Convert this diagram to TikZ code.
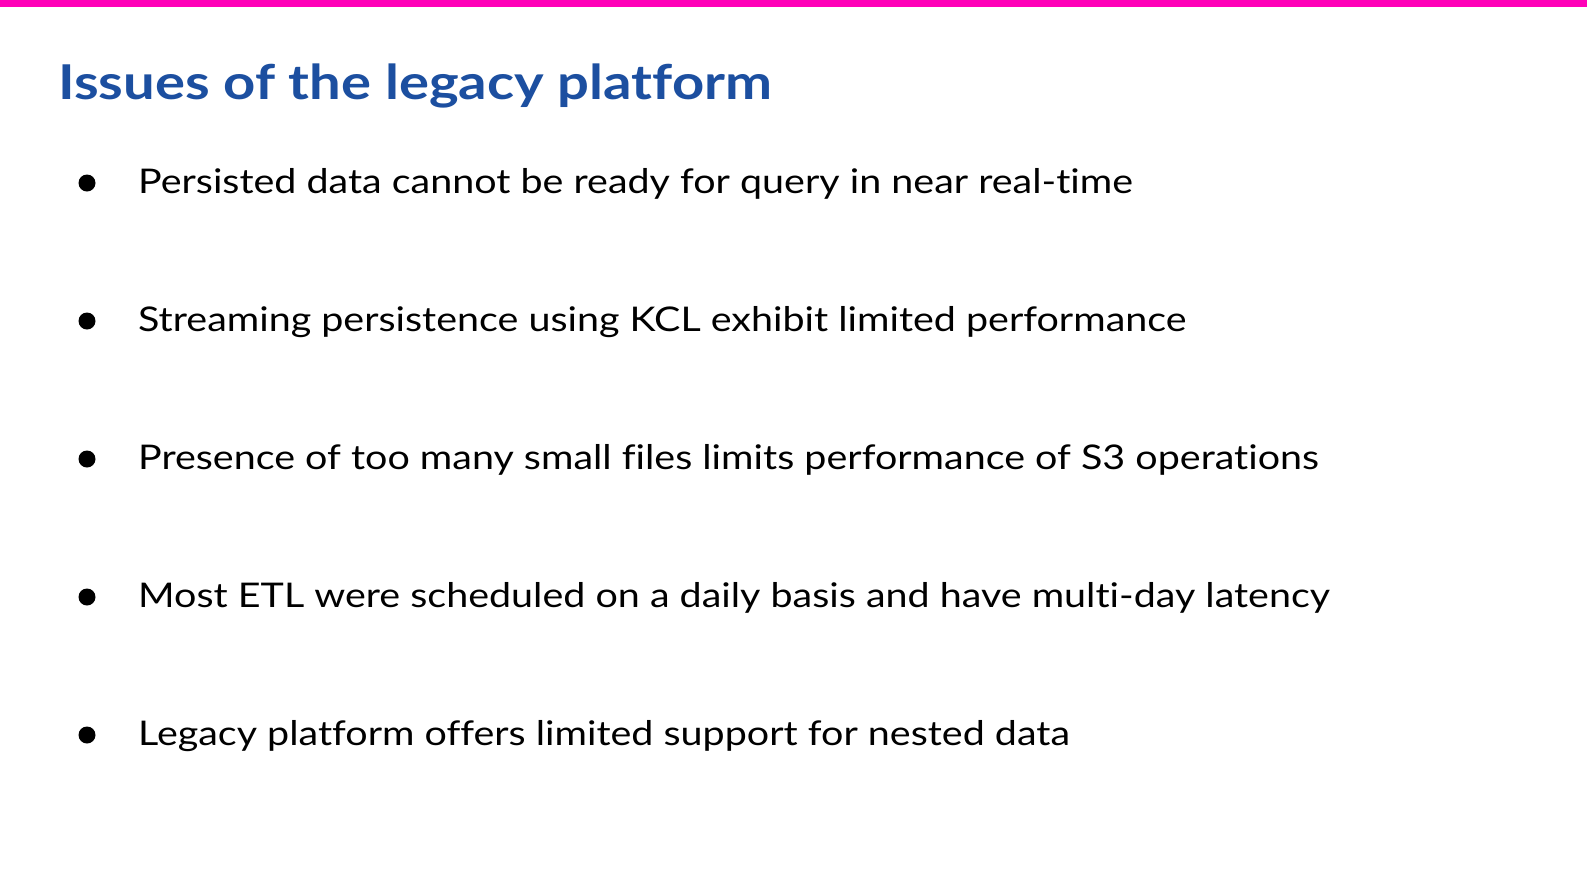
\documentclass[tikz,border=0pt]{standalone}
\usepackage{fontspec}
\setmainfont{Lato}[FakeStretch=1.16,Ligatures={NoCommon,NoDiscretionary,NoRare}]
\newfontfamily\titlefont{Lato}[FakeStretch=1.17,Ligatures={NoCommon,NoDiscretionary,NoRare}]
\definecolor{pinkbar}{HTML}{FF00B8}
\definecolor{titleblue}{HTML}{1C4FA0}
\begin{document}
\begin{tikzpicture}[x=1pt,y=-1pt,
  body/.style={anchor=west,inner sep=0pt,font=\fontsize{34}{40}\selectfont},
  dot/.style={circle,fill=black,inner sep=0pt,minimum size=17pt}]
\useasboundingbox (0,0) rectangle (1587,892);
\fill[pinkbar] (0,0) rectangle (1587,7);
\node[anchor=west,inner sep=0pt,text=titleblue,font=\titlefont\fontsize{48}{56}\selectfont\bfseries] (title) at (58,86) {Issues of the legacy platform};
\node[dot] (b1) at (87,183) {};
\node[body] (t1) at (138,184) {Persisted data cannot be ready for query in near real-time};
\node[dot] (b2) at (87,321) {};
\node[body] (t2) at (138,322) {Streaming persistence using KCL exhibit limited performance};
\node[dot] (b3) at (87,459) {};
\node[body] (t3) at (138,460) {Presence of too many small files limits performance of S3 operations};
\node[dot] (b4) at (87,597) {};
\node[body] (t4) at (138,598) {Most ETL were scheduled on a daily basis and have multi-day latency};
\node[dot] (b5) at (87,735) {};
\node[body] (t5) at (138,736) {Legacy platform offers limited support for nested data};
\end{tikzpicture}
\end{document}
